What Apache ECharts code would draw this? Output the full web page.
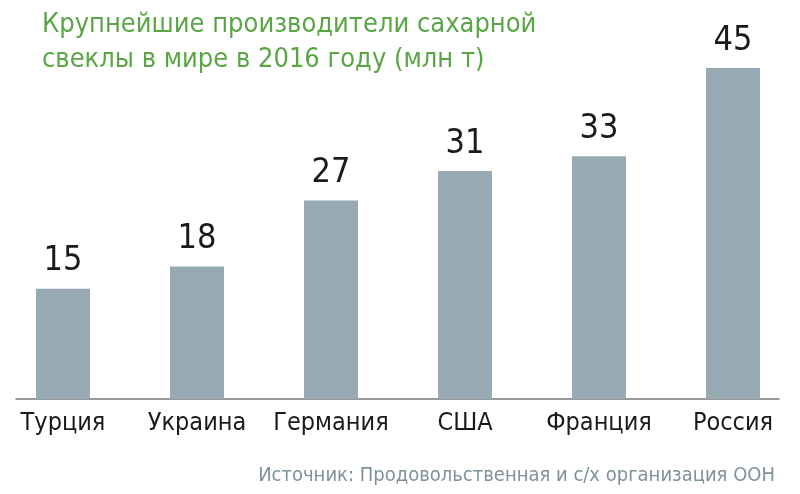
<!DOCTYPE html>
<html><head><meta charset="utf-8">
<script src="https://cdn.jsdelivr.net/npm/echarts@6/dist/echarts.min.js"></script>
<style>html,body{margin:0;padding:0;background:#fff;overflow:hidden}#c{position:absolute;left:-4px;top:0;width:806px;height:494px}</style>
</head><body><div id="c"></div>
<script>
const categories = ['Турция','Украина','Германия','США','Франция','Россия'];
const values = [15, 18, 27, 31, 33, 45];
const titleText = 'Крупнейшие производители сахарной\nсвеклы в мире в 2016 году (млн т)';
const sourceText = 'Источник: Продовольственная и с/х организация ООН';
const FONT = "'DejaVu Sans Condensed', Roboto";

const chart = echarts.init(document.getElementById('c'));
chart.setOption({
  backgroundColor: '#fff',
  animation: false,
  title: [{
    text: titleText, left: 41, top: 2,
    textStyle: {fontFamily: FONT, fontWeight: 'normal', fontSize: 27, lineHeight: 35, color: '#5aa546'}
  }, {
    text: sourceText, right: 22, top: 461,
    textStyle: {fontFamily: FONT, fontWeight: 'normal', fontSize: 20, color: '#7f9199'}
  }],
  grid: [
    {left: 0, right: 2, top: 68, bottom: 95},
    {left: 20, right: 23, top: 68, bottom: 95}
  ],
  xAxis: [{
    type: 'category', data: categories, gridIndex: 0,
    axisLine: {show: false}, axisTick: {show: false},
    axisLabel: {interval: 0, fontFamily: FONT, fontSize: 25, color: '#1a1a1a', margin: 12}
  }, {
    type: 'category', data: categories, gridIndex: 1,
    axisLine: {show: true, lineStyle: {color: '#777', width: 1.5}}, axisTick: {show: false}, axisLabel: {show: false}
  }],
  yAxis: [
    {type: 'value', min: 0, max: 45, gridIndex: 0, show: false},
    {type: 'value', min: 0, max: 45, gridIndex: 1, show: false}
  ],
  series: [{
    type: 'bar', data: values, xAxisIndex: 0, yAxisIndex: 0,
    barWidth: 54,
    itemStyle: {color: '#97a9b2'},
    label: {show: true, position: 'top', distance: 10, fontFamily: FONT, fontSize: 34, color: '#1a1a1a'}
  }]
});
</script></body></html>
